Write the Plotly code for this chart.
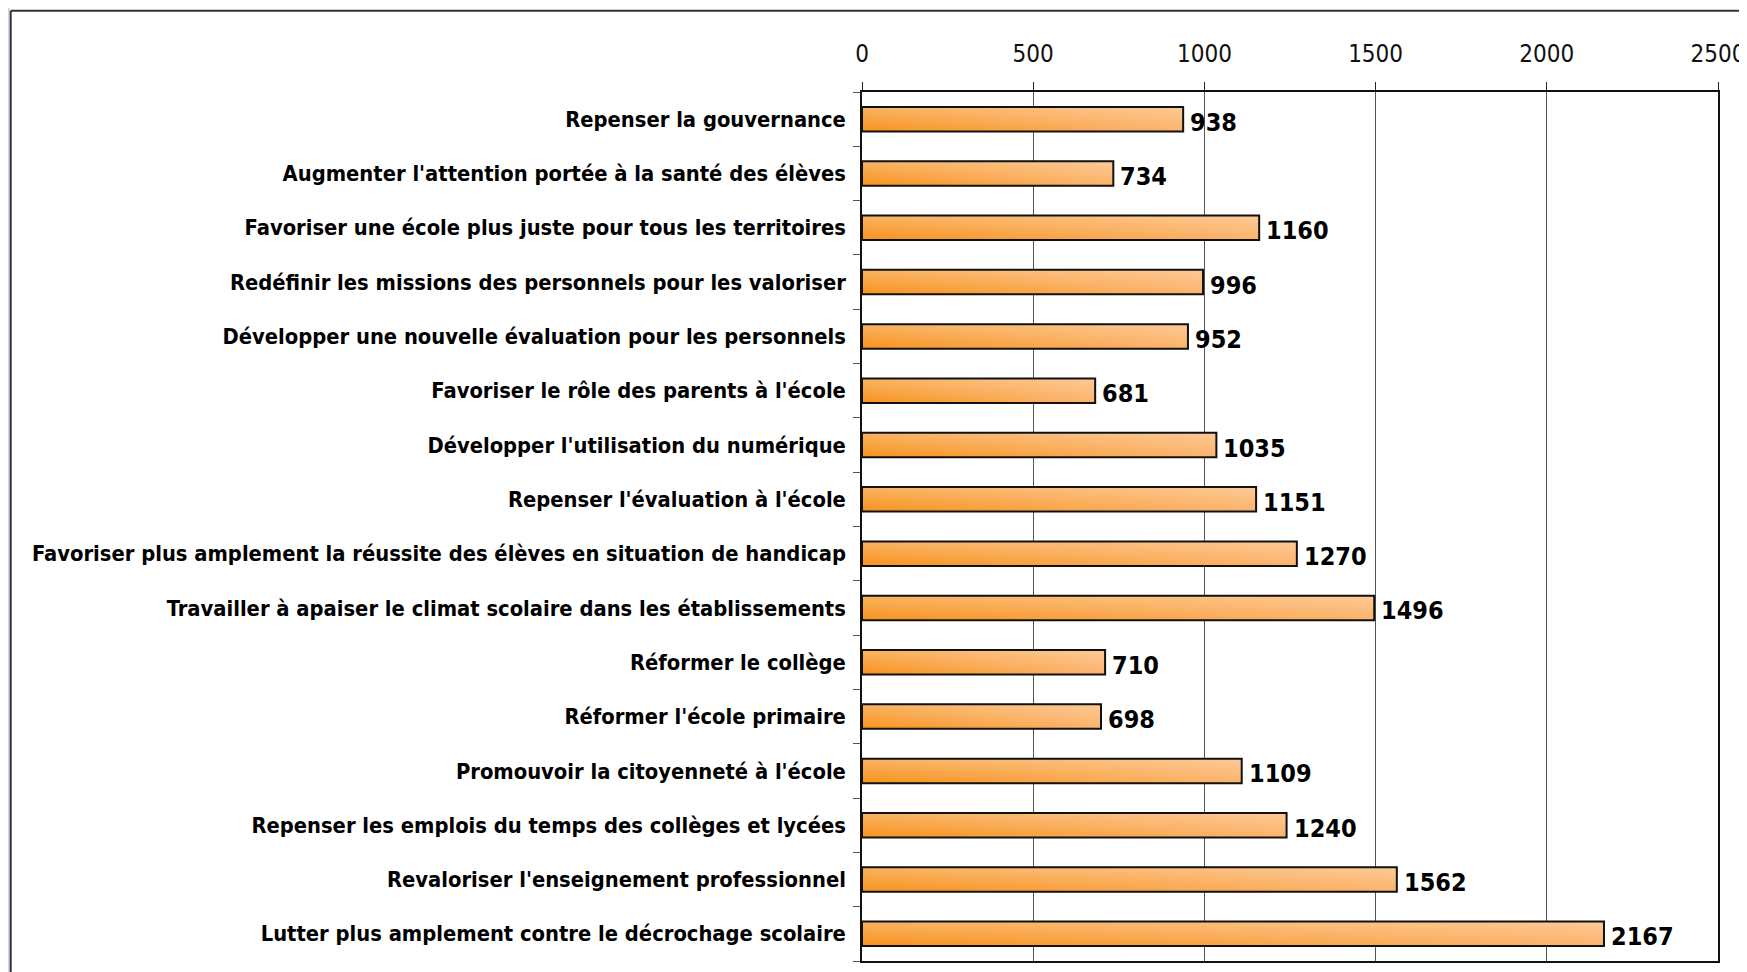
import plotly.graph_objects as go

# Propositions (top to bottom) and number of votes
categories = [
    "Repenser la gouvernance",
    "Augmenter l'attention portée à la santé des élèves",
    "Favoriser une école plus juste pour tous les territoires",
    "Redéfinir les missions des personnels pour les valoriser",
    "Développer une nouvelle évaluation pour les personnels",
    "Favoriser le rôle des parents à l'école",
    "Développer l'utilisation du numérique",
    "Repenser l'évaluation à l'école",
    "Favoriser plus amplement la réussite des élèves en situation de handicap",
    "Travailler à apaiser le climat scolaire dans les établissements",
    "Réformer le collège",
    "Réformer l'école primaire",
    "Promouvoir la citoyenneté à l'école",
    "Repenser les emplois du temps des collèges et lycées",
    "Revaloriser l'enseignement professionnel",
    "Lutter plus amplement contre le décrochage scolaire",
]
values = [938, 734, 1160, 996, 952, 681, 1035, 1151, 1270, 1496, 710, 698, 1109, 1240, 1562, 2167]
x_ticks = [0, 500, 1000, 1500, 2000, 2500]

FONT = "DejaVu Sans Condensed, DejaVu Sans, sans-serif"
BAR_HALF = 0.225  # half bar thickness in category units

fig = go.Figure()

# Bars drawn as filled polygons so they can carry the orange gradient
for i, v in enumerate(values):
    xs = [0, v, v, 0, 0]
    ys = [i - BAR_HALF, i - BAR_HALF, i + BAR_HALF, i + BAR_HALF, i - BAR_HALF]
    fig.add_trace(go.Scatter(
        x=xs, y=ys, mode="lines", fill="toself",
        fillgradient=dict(type="horizontal",
                          colorscale=[[0, "#F7931E"], [1, "#FCB36B"]]),
        line=dict(width=0), hoverinfo="skip", showlegend=False,
    ))
    # light overlay: darker on top, lighter at the bottom (diagonal look)
    fig.add_trace(go.Scatter(
        x=xs, y=ys, mode="lines", fill="toself",
        fillgradient=dict(type="vertical",
                          colorscale=[[0, "rgba(255,255,255,0)"],
                                      [1, "rgba(255,255,255,0.3)"]]),
        line=dict(color="#111111", width=2), hoverinfo="skip", showlegend=False,
    ))

# value labels, sitting just right of each bar and slightly below centre
for i, v in enumerate(values):
    fig.add_annotation(
        x=v, y=i, text=str(v), showarrow=False,
        xanchor="left", yanchor="middle", xshift=5, yshift=-3,
        font=dict(family=FONT, size=25, color="black", weight="bold"),
    )

n = len(categories)
# the page body adds an 8px margin, so the figure is sized/offset for that
fig.update_layout(
    width=1739, height=964,
    margin=dict(l=854, r=29, t=84, b=11),
    paper_bgcolor="white", plot_bgcolor="white",
    xaxis=dict(
        side="top", range=[0, 2500], tickvals=x_ticks, automargin=False,
        ticks="outside", ticklen=8, tickcolor="#222", tickwidth=1,
        tickfont=dict(family=FONT, size=24, color="#111"),
        showgrid=True, gridcolor="#555", gridwidth=1,
        showline=True, linecolor="#111", linewidth=1.5, mirror=True,
        zeroline=False, ticklabelstandoff=11,
    ),
    yaxis=dict(
        range=[n - 0.5, -0.5], tickvals=list(range(n)), ticktext=categories,
        automargin=False, ticks="",
        tickfont=dict(family=FONT, size=21.75, color="black", weight="bold"),
        showgrid=False, zeroline=False,
        showline=True, linecolor="#111", linewidth=1.5, mirror=True,
        minor=dict(tickmode="array", tickvals=[i + 0.5 for i in range(-1, n)],
                   ticks="outside", ticklen=7, tickcolor="#555", showgrid=False),
        ticklabelstandoff=10,
    ),
    shapes=[
        # window shadow on the far left
        dict(type="rect", xref="paper", yref="paper", x0=-1.002, x1=-0.9955,
             y0=-0.02, y1=1.12, fillcolor="#C9D8EC", line=dict(width=0), layer="below"),
        # outer frame (left and top edges)
        dict(type="line", xref="paper", yref="paper", x0=-0.9945, x1=-0.9945,
             y0=-0.02, y1=1.0935, line=dict(color="#333", width=2)),
        dict(type="line", xref="paper", yref="paper", x0=-0.9945, x1=1.06,
             y0=1.0935, y1=1.0935, line=dict(color="#333", width=2)),
    ],
)

fig.write_html("out.html", config={"displayModeBar": False})
